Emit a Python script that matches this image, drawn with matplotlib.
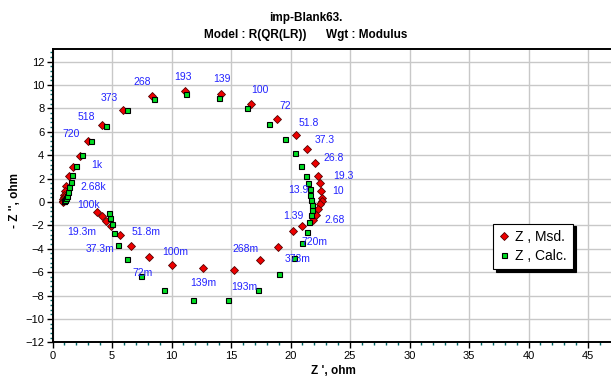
import matplotlib
matplotlib.use("Agg")
import matplotlib.pyplot as plt
from matplotlib.ticker import MultipleLocator

plt.rcParams['font.family'] = ['Liberation Sans', 'DejaVu Sans']

# Measured impedance (red diamonds)
msd_re = [1.13, 1.07, 1.00, 0.95, 0.90, 0.88, 0.87, 0.90,
          2.30, 1.74, 1.40, 3.00, 4.15, 5.89, 8.33, 11.13, 14.12, 16.70,
          18.83, 20.45, 21.40, 22.08, 22.28, 22.47, 22.55, 22.60, 22.60,
          22.50, 22.30, 22.10, 21.90, 20.96, 20.17, 18.90, 17.43, 15.27,
          12.67, 10.00, 8.13, 6.61, 5.66, 4.88, 4.51, 4.15, 3.76]
msd_im = [1.35, 0.95, 0.62, 0.38, 0.22, 0.12, 0.06, 0.02,
          3.92, 3.00, 2.26, 5.20, 6.54, 7.90, 9.04, 9.51, 9.25, 8.39,
          7.11, 5.74, 4.49, 3.32, 2.24, 1.58, 0.90, 0.36, 0.07,
          -0.21, -0.64, -1.13, -1.55, -2.07, -2.52, -3.86, -4.94, -5.83,
          -5.63, -5.43, -4.74, -3.78, -2.86, -2.07, -1.61, -1.21, -0.84]

# Calculated impedance (green squares)
calc_re = [0.97, 1.00, 1.05, 1.12, 1.21, 1.30, 1.40, 1.52, 1.66, 1.94,
           2.44, 3.23, 4.49, 6.23, 8.52, 11.18, 13.98, 16.36, 18.18,
           19.56, 20.40, 20.90, 21.27, 21.47, 21.60, 21.67, 21.75, 21.80,
           21.80, 21.70, 21.57, 21.35, 20.98, 20.30, 19.05, 17.23, 14.74,
           11.83, 9.36, 7.45, 6.28, 5.52, 5.13, 4.97, 4.85, 4.77]
calc_im = [0.05, 0.10, 0.18, 0.30, 0.50, 0.87, 1.24, 1.70, 2.29, 3.06,
           4.00, 5.23, 6.45, 7.82, 8.76, 9.19, 8.87, 7.99, 6.68,
           5.40, 4.15, 3.06, 2.26, 1.64, 1.07, 0.56, 0.13, -0.27,
           -0.70, -1.13, -1.69, -2.58, -3.52, -4.77, -6.20, -7.56, -8.41,
           -8.41, -7.54, -6.34, -4.86, -3.69, -2.64, -1.90, -1.41, -0.98]

# Frequency labels
freq_labels = ["193", "139", "100", "72", "268", "373", "518", "720", "1k",
               "2.68k", "100k", "19.3m", "37.3m", "51.8m", "72m", "100m",
               "139m", "193m", "268m", "373m", "720m", "1.39", "2.68", "10",
               "13.9", "19.3", "26.8", "37.3", "51.8"]
label_x = [10.95, 14.19, 17.45, 19.55, 7.53, 4.75, 2.86, 1.52, 3.70,
           3.42, 3.00, 2.45, 3.98, 7.85, 7.57, 10.29,
           12.67, 16.08, 16.17, 20.56, 21.97, 20.23, 23.73, 24.00,
           20.65, 24.43, 23.59, 22.89, 21.49]
label_y = [10.70, 10.50, 9.56, 8.19, 10.24, 8.85, 7.28, 5.77, 3.20,
           1.27, -0.27, -2.58, -4.06, -2.58, -6.05, -4.26,
           -6.90, -7.25, -4.06, -4.86, -3.40, -1.21, -1.55, 0.90,
           1.01, 2.26, 3.77, 5.28, 6.71]

W, H = 611, 381
fig = plt.figure(figsize=(W / 100, H / 100), dpi=100)
ax = fig.add_axes([52.6 / W, 1 - 342.3 / H, 560 / W, (342.3 - 49.3) / H])

ax.set_xlim(0, 47.06)
ax.set_ylim(-12, 13.05)

ax.xaxis.set_major_locator(MultipleLocator(5))
ax.xaxis.set_minor_locator(MultipleLocator(1))
ax.yaxis.set_major_locator(MultipleLocator(2))
ax.yaxis.set_minor_locator(MultipleLocator(0.4))
ax.grid(True, which='major', color='#c8c8c8', linewidth=1.0)
ax.set_axisbelow(True)
for s in ax.spines.values():
    s.set_linewidth(1.4)
    s.set_color('black')
ax.tick_params(which='major', direction='out', length=4, width=1,
               labelsize=8, pad=2, colors='black')
ax.tick_params(which='minor', direction='out', length=2, width=1,
               color='#006666')

ax.plot(msd_re, msd_im, linestyle='none', marker='D', markersize=4.2,
        markerfacecolor='#ee0000', markeredgecolor='#550000',
        markeredgewidth=0.6, label='Z , Msd.', zorder=3)
ax.plot(calc_re, calc_im, linestyle='none', marker='s', markersize=3.6,
        markerfacecolor='#00dd22', markeredgecolor='black',
        markeredgewidth=0.8, label='Z , Calc.', zorder=4)

for t, x, y in zip(freq_labels, label_x, label_y):
    ax.text(x, y, t, color='#2222ff', fontsize=7.5, ha='center',
            va='center', zorder=5)

leg = ax.legend(loc='upper left', bbox_to_anchor=(0.787, 0.405),
                frameon=True, fancybox=False, shadow={'color': 'black', 'alpha': 1},
                edgecolor='black', framealpha=1, fontsize=10,
                handlelength=0.6, handletextpad=0.5, borderpad=0.45,
                labelspacing=0.35, borderaxespad=0)
leg.get_frame().set_linewidth(0.8)

ax.set_xlabel("Z ', ohm", fontsize=8.5, fontweight='bold', labelpad=1)
ax.xaxis.set_label_coords((333 - 52.6) / 560, -0.078)
fig.text(15 / W, 1 - 200 / H, "- Z '', ohm", rotation=90, fontsize=8.5,
         fontweight='bold', ha='center', va='center')

fig.text(0.5, 1 - 18 / H, "imp-Blank63.", fontsize=8.5, fontweight='bold',
         ha='center', va='center')
fig.text(0.5, 1 - 35 / H, "Model : R(QR(LR))      Wgt : Modulus", fontsize=8.5,
         fontweight='bold', ha='center', va='center')

fig.savefig("out.png", dpi=100)
